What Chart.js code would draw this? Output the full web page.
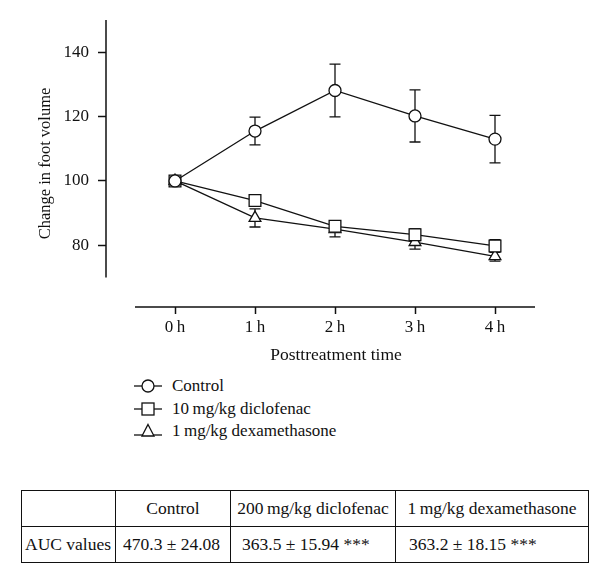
<!DOCTYPE html>
<html>
<head>
<meta charset="utf-8">
<script src="https://cdn.jsdelivr.net/npm/chart.js@4.4.0/dist/chart.umd.min.js"></script>
<style>
  body { margin: 0; background: #fff; font-family: 'Liberation Serif', serif; color: #111; }
  #wrap { position: relative; width: 600px; height: 574px; }
  #myChart { position: absolute; left: 0; top: 0; }
  #legend { position: absolute; left: 133px; top: 375px; font-size: 17px; }
  #legend div { height: 22.5px; line-height: 22px; display: flex; align-items: center; }
  #legend svg { margin-right: 9px; }
  #auc { position: absolute; left: 21px; top: 490px; width: 563px; border-collapse: collapse; table-layout: fixed; font-size: 17.5px; }
  #auc td { border: 1.3px solid #111; height: 35px; padding: 0; white-space: nowrap; overflow: hidden; }
  #auc tr:first-child td { text-align: center; }
</style>
</head>
<body>
<div id="wrap">
  <canvas id="myChart" width="600" height="370"></canvas>
  <div id="legend"></div>
  <table id="auc"></table>
</div>
<script>
// datos
const timeLabels = ['0\u2009h', '1\u2009h', '2\u2009h', '3\u2009h', '4\u2009h'];
const timeHours = [0, 1, 2, 3, 4];

const seriesNames = ['Control', '10\u2009mg/kg diclofenac', '1\u2009mg/kg dexamethasone'];
const controlMean = [100, 115.5, 128.1, 120.2, 113.0];
const controlErr = [0, 4.3, 8.2, 8.1, 7.4];
const diclofenacMean = [100, 93.9, 85.9, 83.3, 79.8];
const diclofenacErr = [0, 0, 1.5, 1.9, 2.0];
const dexaMean = [100, 88.5, 85.0, 81.0, 76.6];
const dexaErr = [0, 2.8, 2.4, 2.2, 1.5];
const pointShapes = ['circle', 'rect', 'triangle'];
const pointSizes = [6, 8.3, 6.8];

const yTickValues = [80, 100, 120, 140];

// tabla AUC
const aucHeader = ['', 'Control', '200\u2009mg/kg diclofenac', '1\u2009mg/kg dexamethasone'];
const aucRow = ['AUC values', '470.3 ± 24.08', '363.5 ± 15.94 ***', '363.2 ± 18.15 ***'];

window.addEventListener('DOMContentLoaded', () => {

    const font = 'Liberation Serif';
    const means = [controlMean, diclofenacMean, dexaMean];
    const errs = [controlErr, diclofenacErr, dexaErr];

    const datasets = means.map((m, i) => ({
        label: seriesNames[i],
        data: timeHours.map((t, j) => ({ x: t, y: m[j] })),
        errors: errs[i],
        borderColor: '#111',
        borderWidth: 1.3,
        pointStyle: pointShapes[i],
        pointRadius: pointSizes[i],
        pointBackgroundColor: '#fff',
        pointBorderColor: '#111',
        pointBorderWidth: 1.3,
        tension: 0
    }));

    // barras de error (antes de los puntos)
    const errorBars = {
        id: 'errorBars',
        beforeDatasetsDraw(chart) {
            const { ctx, scales: { x, y } } = chart;
            ctx.save();
            ctx.strokeStyle = '#111';
            ctx.lineWidth = 1.3;
            chart.data.datasets.forEach(ds => {
                ds.data.forEach((p, j) => {
                    const e = ds.errors[j];
                    if (!e) return;
                    const px = x.getPixelForValue(p.x);
                    const top = y.getPixelForValue(p.y + e);
                    const bot = y.getPixelForValue(p.y - e);
                    ctx.beginPath();
                    ctx.moveTo(px, top); ctx.lineTo(px, bot);
                    ctx.moveTo(px - 5.5, top); ctx.lineTo(px + 5.5, top);
                    ctx.moveTo(px - 5.5, bot); ctx.lineTo(px + 5.5, bot);
                    ctx.stroke();
                });
            });
            ctx.restore();
        }
    };

    // ejes separados (estilo Prism)
    const offsetAxes = {
        id: 'offsetAxes',
        afterDraw(chart) {
            const { ctx, scales: { x, y }, chartArea } = chart;
            ctx.save();
            ctx.strokeStyle = '#111';
            ctx.lineWidth = 1.5;
            ctx.beginPath();
            ctx.moveTo(chartArea.left, y.getPixelForValue(70));
            ctx.lineTo(chartArea.left, y.getPixelForValue(150));
            ctx.moveTo(x.getPixelForValue(-0.5), chartArea.bottom);
            ctx.lineTo(x.getPixelForValue(4.5), chartArea.bottom);
            ctx.stroke();
            ctx.restore();
        }
    };

    new Chart(document.getElementById('myChart'), {
        type: 'line',
        data: { datasets },
        plugins: [errorBars, offsetAxes],
        options: {
            responsive: false,
            animation: false,
            layout: { padding: { left: 32, right: 34, top: 20, bottom: 0 } },
            plugins: { legend: { display: false }, tooltip: { enabled: false } },
            scales: {
                x: {
                    type: 'linear',
                    min: -0.8625,
                    max: 4.8875,
                    afterBuildTicks: s => { s.ticks = timeHours.map(v => ({ value: v })); },
                    afterFit: s => { s.height = 63; },
                    border: { display: false },
                    grid: { drawOnChartArea: false, drawTicks: true, tickLength: 7, tickWidth: 1.5, color: '#111' },
                    ticks: {
                        color: '#111', padding: 3,
                        font: { family: font, size: 17 },
                        callback: (v) => timeLabels[timeHours.indexOf(v)]
                    },
                    title: {
                        display: true, text: 'Posttreatment time', color: '#111',
                        font: { family: font, size: 17.5 }, padding: { top: 0, bottom: 4 }
                    }
                },
                y: {
                    min: 60.84,
                    max: 150,
                    afterBuildTicks: s => { s.ticks = yTickValues.map(v => ({ value: v })); },
                    afterFit: s => { s.width = 74; },
                    border: { display: false },
                    grid: { drawOnChartArea: false, drawTicks: true, tickLength: 8, tickWidth: 1.5, color: '#111' },
                    ticks: { color: '#111', padding: 9, font: { family: font, size: 17 } },
                    title: {
                        display: true, text: 'Change in foot volume', color: '#111',
                        font: { family: font, size: 16.5 }, padding: { top: 4, bottom: 0 }
                    }
                }
            }
        }
    });

    // leyenda en HTML
    const legend = document.getElementById('legend');
    const shapeSvg = {
        circle: '<circle cx="15" cy="8" r="6" fill="#fff" stroke="#111" stroke-width="1.3"/>',
        rect: '<rect x="9" y="2" width="12" height="12" fill="#fff" stroke="#111" stroke-width="1.3"/>',
        triangle: '<polygon points="15,1.5 21,13 9,13" fill="#fff" stroke="#111" stroke-width="1.3"/>'
    };
    seriesNames.forEach((name, i) => {
        const row = document.createElement('div');
        row.innerHTML = `<svg width="30" height="16"><line x1="1" y1="${i === 2 ? 12 : 8}" x2="29" y2="${i === 2 ? 12 : 8}" stroke="#111" stroke-width="1.3"/>${shapeSvg[pointShapes[i]]}</svg><span>${name}</span>`;
        legend.appendChild(row);
    });

    // tabla AUC
    const table = document.getElementById('auc');
    const colWidths = [93, 114, 164, 192];
    const rowPads = [3, 7, 11, 13];
    [aucHeader, aucRow].forEach((cells, r) => {
        const tr = document.createElement('tr');
        cells.forEach((c, k) => {
            const td = document.createElement('td');
            td.textContent = c;
            td.style.width = colWidths[k] + 'px';
            if (r === 1) td.style.paddingLeft = rowPads[k] + 'px';
            tr.appendChild(td);
        });
        table.appendChild(tr);
    });
});
</script>
</body>
</html>
